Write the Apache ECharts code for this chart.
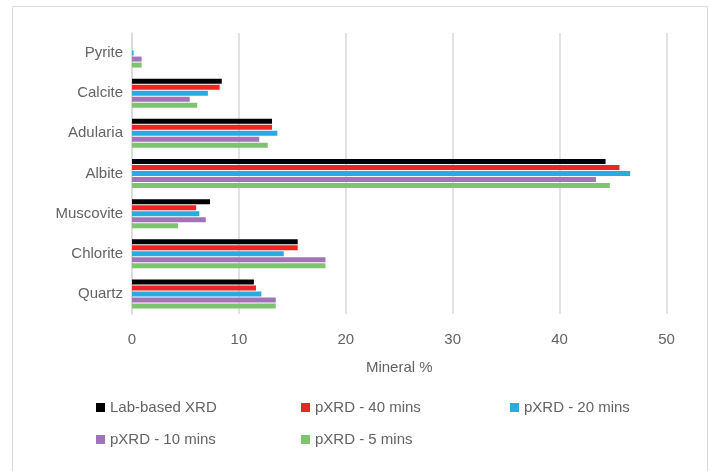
<!DOCTYPE html>
<html><head><meta charset="utf-8">
<script src="https://cdn.jsdelivr.net/npm/echarts@6/dist/echarts.min.js"></script>
<style>html,body{margin:0;padding:0;background:#fff}#c{width:709px;height:471px}</style>
</head><body><div id="c"></div>
<script>
var categories = ['Quartz','Chlorite','Muscovite','Albite','Adularia','Calcite','Pyrite'];
var seriesNames = ['Lab-based XRD','pXRD - 40 mins','pXRD - 20 mins','pXRD - 10 mins','pXRD - 5 mins'];
var labXRD   = [11.4, 15.5, 7.3, 44.3, 13.1, 8.4, 0];
var pxrd40   = [11.6, 15.5, 6.0, 45.6, 13.1, 8.2, 0];
var pxrd20   = [12.1, 14.2, 6.3, 46.6, 13.6, 7.1, 0.15];
var pxrd10   = [13.45, 18.1, 6.9, 43.4, 11.9, 5.4, 0.9];
var pxrd5    = [13.45, 18.1, 4.3, 44.7, 12.7, 6.1, 0.9];
var xTicks = [0, 10, 20, 30, 40, 50];
var colors = ['#000000','#ee2424','#29abe2','#a273b7','#7cc46e'];

var values = [labXRD, pxrd40, pxrd20, pxrd10, pxrd5];
var font = 'Liberation Sans';
var txt = '#636363';
var chart = echarts.init(document.getElementById('c'), null, {renderer:'canvas'});
var series = values.map(function(v,i){
  return {name: seriesNames[i], type:'bar', data:v, barWidth:5, barGap:'20%',
          itemStyle:{color:colors[i]}, animation:false};
});
var legendPos = [[96,400],[301,400],[510,400],[96,432],[301,432]];
var legends = seriesNames.map(function(n,i){
  return {data:[n], left:legendPos[i][0], top:legendPos[i][1], icon:'rect', itemWidth:9, itemHeight:9, itemGap:4,
          textStyle:{fontFamily:font, fontSize:15, color:txt}, selectedMode:false, padding:0};
});
chart.setOption({
  backgroundColor:'#fff',
  animation:false,
  textStyle:{fontFamily:font},
  grid:{left:132, right:42.5, top:33, bottom:157},
  xAxis:{type:'value', min:xTicks[0], max:xTicks[xTicks.length-1], interval:10,
    axisLine:{show:false}, axisTick:{show:false},
    splitLine:{lineStyle:{color:'#d9d9d9', width:1.5}},
    axisLabel:{fontFamily:font, fontSize:15, color:txt, margin:18},
    name:'Mineral %', nameLocation:'middle', nameGap:46,
    nameTextStyle:{fontFamily:font, fontSize:15, color:txt}},
  yAxis:{type:'category', data:categories,
    axisLine:{show:true, lineStyle:{color:'#d9d9d9', width:1.5}}, axisTick:{show:false},
    axisLabel:{fontFamily:font, fontSize:15, color:txt, margin:9}},
  legend:legends,
  graphic:[{type:'rect', shape:{x:12.5, y:6.5, width:695, height:480}, style:{fill:null, stroke:'#d9d9d9', lineWidth:1}, silent:true}],
  series:series
});
</script></body></html>
